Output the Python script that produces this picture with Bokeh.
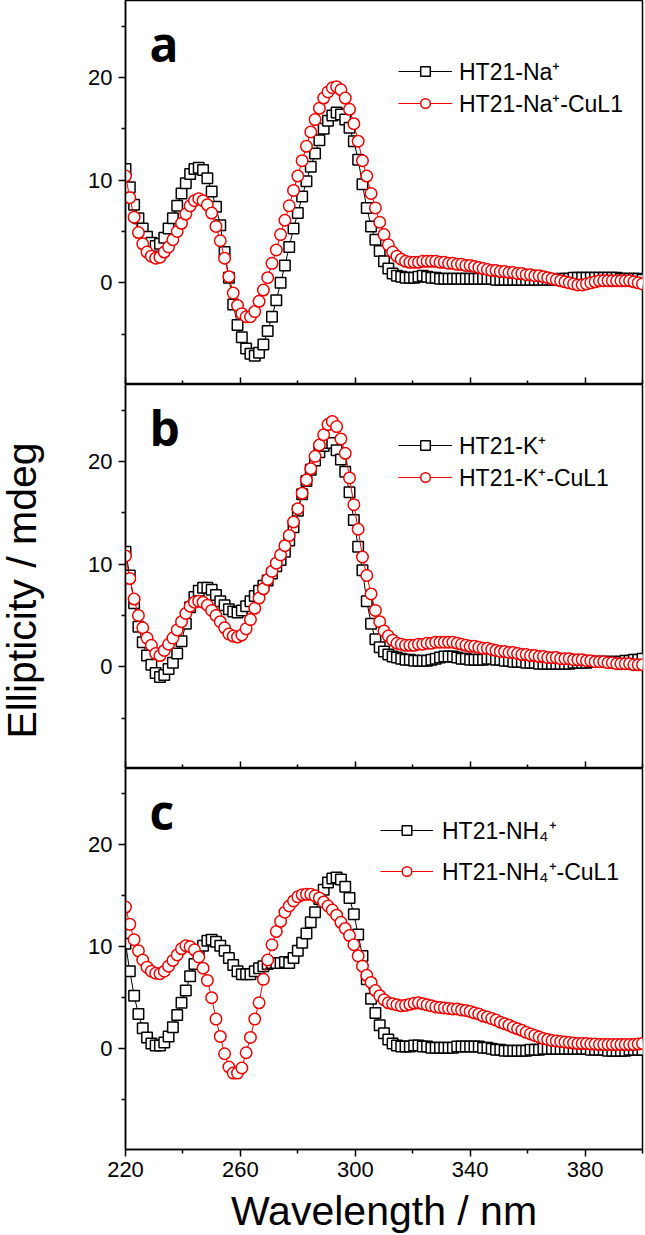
import numpy as np
from bokeh.plotting import figure
from bokeh.models import Range1d, FixedTicker, Legend, LegendItem, Label, LinearAxis
from bokeh.layouts import column, row
from bokeh.embed import file_html
from bokeh.resources import INLINE

# wavelength grid (nm), one point every 1.5 nm
wavelength = list(np.round(np.arange(220.0, 400.01, 1.5), 1))

# Panel a
na_black = [11.1, 9.3, 7.6, 6.3, 5.3, 4.5, 3.9, 3.6, 3.8, 4.4,
            5.3, 6.3, 7.5, 8.7, 9.7, 10.6, 11.1, 11.2, 11.0, 10.2,
            8.9, 7.4, 5.6, 3.0, 0.5, -2.1, -4.1, -5.3, -6.4, -6.9,
            -7.1, -6.8, -6.0, -4.7, -3.3, -1.7, 0.0, 1.7, 3.5, 5.3,
            6.8, 8.4, 9.9, 11.3, 12.6, 13.9, 15.0, 15.8, 16.3, 16.6,
            16.4, 15.9, 15.1, 13.8, 12.0, 9.6, 7.3, 5.5, 4.2, 3.1,
            2.1, 1.4, 0.9, 0.7, 0.6, 0.5, 0.5, 0.5, 0.6, 0.7,
            0.6, 0.5, 0.5, 0.4, 0.4, 0.4, 0.4, 0.4, 0.4, 0.4,
            0.4, 0.4, 0.4, 0.4, 0.4, 0.4, 0.3, 0.3, 0.3, 0.3,
            0.3, 0.3, 0.3, 0.3, 0.3, 0.3, 0.3, 0.3, 0.3, 0.3,
            0.3, 0.4, 0.4, 0.4, 0.5, 0.5, 0.5, 0.5, 0.5, 0.5,
            0.5, 0.5, 0.5, 0.5, 0.5, 0.4, 0.4, 0.4, 0.4, 0.4,
            0.3]
na_red = [10.4, 8.3, 6.4, 4.9, 3.8, 3.0, 2.6, 2.4, 2.5, 3.0,
          3.5, 4.2, 5.0, 5.8, 6.7, 7.5, 8.0, 8.2, 8.0, 7.6,
          6.8, 5.5, 4.1, 2.4, 0.6, -1.0, -2.2, -3.0, -3.3, -3.3,
          -2.8, -1.8, -0.7, 0.5, 1.9, 3.2, 4.7, 6.1, 7.5, 9.0,
          10.4, 11.9, 13.3, 14.7, 15.9, 17.0, 18.0, 18.6, 19.0, 19.1,
          18.8, 18.0, 16.9, 15.5, 13.8, 11.9, 10.4, 8.7, 7.3, 5.9,
          4.7, 3.7, 3.0, 2.6, 2.3, 2.1, 2.0, 2.0, 2.0, 2.1,
          2.1, 2.1, 2.1, 2.0, 2.0, 1.9, 1.9, 1.8, 1.8, 1.7,
          1.7, 1.6, 1.5, 1.4, 1.3, 1.2, 1.2, 1.1, 1.1, 1.0,
          1.0, 0.9, 0.9, 0.8, 0.8, 0.7, 0.7, 0.6, 0.5, 0.4,
          0.3, 0.2, 0.1, 0.0, -0.1, -0.2, -0.2, -0.1, 0.0, 0.1,
          0.2, 0.2, 0.2, 0.2, 0.2, 0.2, 0.2, 0.2, 0.1, 0.0,
          -0.1]

# Panel b
k_black = [11.2, 8.9, 6.2, 3.9, 2.4, 1.1, 0.2, -0.6, -1.0, -0.8,
           -0.2, 0.4, 1.3, 2.5, 4.2, 5.8, 6.8, 7.4, 7.7, 7.7,
           7.5, 7.0, 6.4, 6.0, 5.6, 5.4, 5.3, 5.5, 5.9, 6.4,
           6.9, 7.4, 7.9, 8.4, 9.1, 9.8, 10.4, 11.2, 12.3, 13.6,
           15.2, 16.8, 18.1, 19.2, 20.1, 20.9, 21.5, 21.8, 21.8, 21.1,
           20.2, 19.0, 17.0, 14.3, 11.7, 9.4, 6.4, 4.2, 2.7, 1.9,
           1.5, 1.2, 1.0, 0.9, 0.8, 0.7, 0.7, 0.6, 0.6, 0.6,
           0.6, 0.7, 0.8, 0.9, 1.0, 1.0, 1.0, 0.9, 0.8, 0.8,
           0.7, 0.7, 0.7, 0.7, 0.8, 0.8, 0.7, 0.7, 0.6, 0.6,
           0.5, 0.5, 0.5, 0.4, 0.4, 0.4, 0.3, 0.3, 0.3, 0.3,
           0.3, 0.3, 0.3, 0.3, 0.4, 0.4, 0.4, 0.4, 0.5, 0.5,
           0.5, 0.5, 0.5, 0.5, 0.5, 0.5, 0.6, 0.6, 0.7, 0.7,
           0.8]
k_red = [10.8, 8.6, 6.6, 5.0, 3.8, 2.8, 2.1, 1.3, 1.1, 1.6,
         2.2, 2.8, 3.6, 4.4, 5.2, 5.9, 6.3, 6.4, 6.3, 6.0,
         5.5, 5.0, 4.4, 3.8, 3.2, 3.0, 2.9, 3.1, 3.7, 4.6,
         5.7, 6.7, 7.6, 8.5, 9.3, 10.1, 10.9, 11.8, 12.8, 14.1,
         15.4, 16.9, 18.2, 19.3, 20.5, 21.6, 22.6, 23.6, 23.9, 23.4,
         22.2, 20.8, 18.4, 15.8, 13.4, 10.7, 8.9, 7.1, 5.5, 4.4,
         3.5, 3.0, 2.6, 2.3, 2.2, 2.1, 2.1, 2.1, 2.2, 2.2,
         2.3, 2.3, 2.4, 2.4, 2.4, 2.4, 2.4, 2.3, 2.2, 2.1,
         2.0, 2.0, 1.9, 1.8, 1.8, 1.7, 1.6, 1.5, 1.5, 1.4,
         1.4, 1.3, 1.2, 1.2, 1.1, 1.1, 1.0, 1.0, 0.9, 0.9,
         0.9, 0.8, 0.8, 0.8, 0.7, 0.7, 0.7, 0.6, 0.6, 0.5,
         0.5, 0.5, 0.4, 0.4, 0.3, 0.3, 0.3, 0.3, 0.2, 0.2,
         0.2]

# Panel c
nh4_black = [10.3, 7.6, 5.2, 3.4, 2.0, 1.1, 0.5, 0.3, 0.3, 0.6,
             1.2, 2.1, 3.3, 4.5, 5.7, 7.1, 8.3, 9.4, 10.1, 10.6,
             10.7, 10.5, 10.1, 9.6, 8.9, 8.2, 7.6, 7.3, 7.3, 7.3,
             7.6, 7.9, 8.1, 8.3, 8.4, 8.4, 8.4, 8.5, 8.4, 8.9,
             9.6, 10.4, 11.3, 12.4, 13.4, 14.7, 15.6, 16.3, 16.7, 16.8,
             16.6, 15.9, 14.8, 13.2, 11.2, 9.1, 6.8, 4.9, 3.5, 2.3,
             1.5, 0.9, 0.5, 0.3, 0.2, 0.2, 0.2, 0.3, 0.3, 0.2,
             0.2, 0.1, 0.1, 0.1, 0.1, 0.1, 0.1, 0.2, 0.2, 0.2,
             0.2, 0.2, 0.2, 0.1, 0.1, 0.0, -0.1, -0.1, -0.2, -0.2,
             -0.2, -0.2, -0.2, -0.2, -0.1, -0.1, -0.1, 0.0, 0.0, 0.0,
             0.0, 0.0, 0.0, 0.0, 0.0, 0.0, 0.0, 0.0, -0.1, -0.1,
             -0.1, -0.1, -0.2, -0.2, -0.2, -0.2, -0.2, -0.1, -0.1, -0.1,
             -0.1]
nh4_red = [13.9, 12.2, 10.7, 9.6, 8.7, 8.0, 7.6, 7.4, 7.35, 7.6,
           8.1, 8.65, 9.2, 9.8, 10.1, 10.0, 9.7, 9.0, 7.9, 6.7,
           5.0, 2.9, 1.2, -0.5, -1.8, -2.4, -2.4, -1.9, -0.4, 1.1,
           2.9, 4.5, 6.8, 8.7, 10.2, 11.5, 12.5, 13.4, 14.0, 14.5,
           14.9, 15.1, 15.15, 15.15, 15.0, 14.8, 14.4, 14.0, 13.6, 13.1,
           12.4, 11.8, 11.1, 10.2, 9.1, 8.1, 7.2, 6.5, 5.7, 5.2,
           4.8, 4.5, 4.4, 4.3, 4.2, 4.25, 4.35, 4.45, 4.5, 4.4,
           4.3, 4.2, 4.1, 4.05, 4.0, 3.95, 3.9, 3.9, 3.8, 3.75,
           3.65, 3.5, 3.4, 3.2, 3.1, 2.95, 2.8, 2.6, 2.45, 2.3,
           2.1, 1.95, 1.8, 1.6, 1.45, 1.3, 1.15, 1.0, 0.9, 0.8,
           0.75, 0.7, 0.65, 0.6, 0.55, 0.5, 0.5, 0.5, 0.45, 0.45,
           0.4, 0.4, 0.4, 0.4, 0.4, 0.4, 0.4, 0.4, 0.4, 0.45,
           0.5]

panel_letters = ["a", "b", "c"]
legend_black = ["HT21-Na\u207a", "HT21-K\u207a", "HT21-NH\u2084\u207a"]
legend_red = ["HT21-Na\u207a-CuL1", "HT21-K\u207a-CuL1", "HT21-NH\u2084\u207a-CuL1"]
x_title = "Wavelength / nm"
y_title = "Ellipticity / mdeg"
x_ticks = [220, 260, 300, 340, 380]
x_minor = [240, 280, 320, 360, 400]
y_ticks = [0, 10, 20]
y_minor = [-5, 5, 15, 25]

FONT = "Liberation Sans"
RED = "#ee0000"
x_range = Range1d(220, 400)
TITLE_W = 45
TOTAL_H = 1234


def style_y(yax):
    yax.ticker = FixedTicker(ticks=y_ticks, minor_ticks=y_minor)
    yax.major_tick_out = 7
    yax.major_tick_in = 0
    yax.minor_tick_out = 4
    yax.minor_tick_in = 0
    yax.axis_line_width = 1.5
    yax.major_tick_line_width = 1.5
    yax.minor_tick_line_width = 1.5
    yax.major_label_text_font = FONT
    yax.major_label_text_font_size = "22px"
    yax.major_label_text_color = "black"
    yax.major_label_standoff = 6


def make_panel(yb, yr, idx, frame_h, leg_x, leg_y1, leg_y2, glyph_w, standoff,
               bottom):
    p = figure(frame_width=517, frame_height=frame_h, x_range=x_range,
               y_range=Range1d(-9.9, 27.5), output_backend="svg",
               toolbar_location=None, min_border_left=125 - TITLE_W,
               min_border_right=3, min_border_top=0,
               min_border_bottom=40 if bottom else 0)
    p.grid.visible = False
    p.outline_line_color = "black"
    p.outline_line_width = 1.5
    style_y(p.yaxis[0])

    xax = p.xaxis[0]
    xax.axis_line_width = 1.5
    xax.major_tick_line_width = 1.5
    xax.minor_tick_line_width = 1.5
    if bottom:
        xax.ticker = FixedTicker(ticks=x_ticks, minor_ticks=x_minor)
        xax.major_tick_out = 7
        xax.major_tick_in = 0
        xax.minor_tick_out = 4
        xax.minor_tick_in = 0
        xax.major_label_text_font = FONT
        xax.major_label_text_font_size = "22px"
        xax.major_label_text_color = "black"
        xax.major_label_standoff = 5
    else:
        # short inward ticks (minor positions)
        xax.ticker = FixedTicker(ticks=[], minor_ticks=x_minor)
        xax.major_tick_out = 0
        xax.major_tick_in = 0
        xax.minor_tick_out = 0
        xax.minor_tick_in = 4
        xax.major_label_standoff = 0
        # long inward ticks (major positions), no labels
        ax2 = LinearAxis(ticker=FixedTicker(ticks=[], minor_ticks=x_ticks),
                         axis_line_color=None, major_tick_out=0, major_tick_in=0,
                         minor_tick_out=0, minor_tick_in=7,
                         minor_tick_line_width=1.5, major_label_standoff=0)
        p.add_layout(ax2, "below")

    lb = p.line(wavelength, yb, line_color="black", line_width=1)
    sb = p.scatter(wavelength, yb, marker="square", size=10.5, line_color="black",
                   fill_color="white", line_width=1.5)
    lr = p.line(wavelength, yr, line_color=RED, line_width=1)
    sr = p.scatter(wavelength, yr, marker="circle", size=11.5, line_color=RED,
                   fill_color="white", line_width=1.5)

    for label, rends, ly in ((legend_black[idx], [lb, sb], leg_y1),
                             (legend_red[idx], [lr, sr], leg_y2)):
        legend = Legend(items=[LegendItem(label=label, renderers=rends)],
                        location=(leg_x, ly), glyph_width=glyph_w, glyph_height=24,
                        label_height=24, label_standoff=standoff, spacing=0,
                        padding=0, margin=0, border_line_color=None,
                        background_fill_alpha=0, label_text_font=FONT,
                        label_text_font_size="23px", label_text_color="black")
        p.add_layout(legend)

    letter = Label(x=24, y=frame_h - 43, x_units="screen", y_units="screen",
                   text=panel_letters[idx], text_font="Open Sans",
                   text_font_style="bold", text_font_size="48px",
                   text_color="black", text_baseline="alphabetic")
    p.add_layout(letter)
    return p


def blank_fig(w, h, left=0, right=0):
    f = figure(width=w, height=h, x_range=Range1d(0, 1), y_range=Range1d(0, 1),
               x_axis_location=None, y_axis_location=None, output_backend="svg",
               toolbar_location=None, min_border=0, min_border_left=left,
               min_border_right=right)
    f.grid.visible = False
    f.outline_line_color = None
    return f


pa = make_panel(na_black, na_red, 0, 384, 273, 297, 265, 54, 7, False)
pb = make_panel(k_black, k_red, 1, 384, 273, 307, 275, 54, 7, False)
pc = make_panel(nh4_black, nh4_red, 2, 381, 255, 303, 262, 53, 9, True)

# panel c canvas ends at 384 + 384 + 381 + 40 = 1189
xt_h = TOTAL_H - (384 + 384 + 381 + 40)
xt = blank_fig(600, xt_h, left=125 - TITLE_W, right=3)
xt.add_layout(Label(x=258.5, y=xt_h - 21, x_units="screen",
                    y_units="screen", text=x_title, text_font=FONT,
                    text_font_size="41px", text_color="black",
                    text_align="center", text_baseline="alphabetic"))

yt = blank_fig(TITLE_W, TOTAL_H)
yt.add_layout(Label(x=21, y=TOTAL_H - 590, x_units="screen", y_units="screen",
                    text=y_title, angle=90, angle_units="deg",
                    text_font=FONT, text_font_size="41px", text_color="black",
                    text_align="center", text_baseline="alphabetic"))

layout = row(yt, column(pa, pb, pc, xt, spacing=0), spacing=0)
open("out.html", "w").write(file_html(layout, INLINE))
